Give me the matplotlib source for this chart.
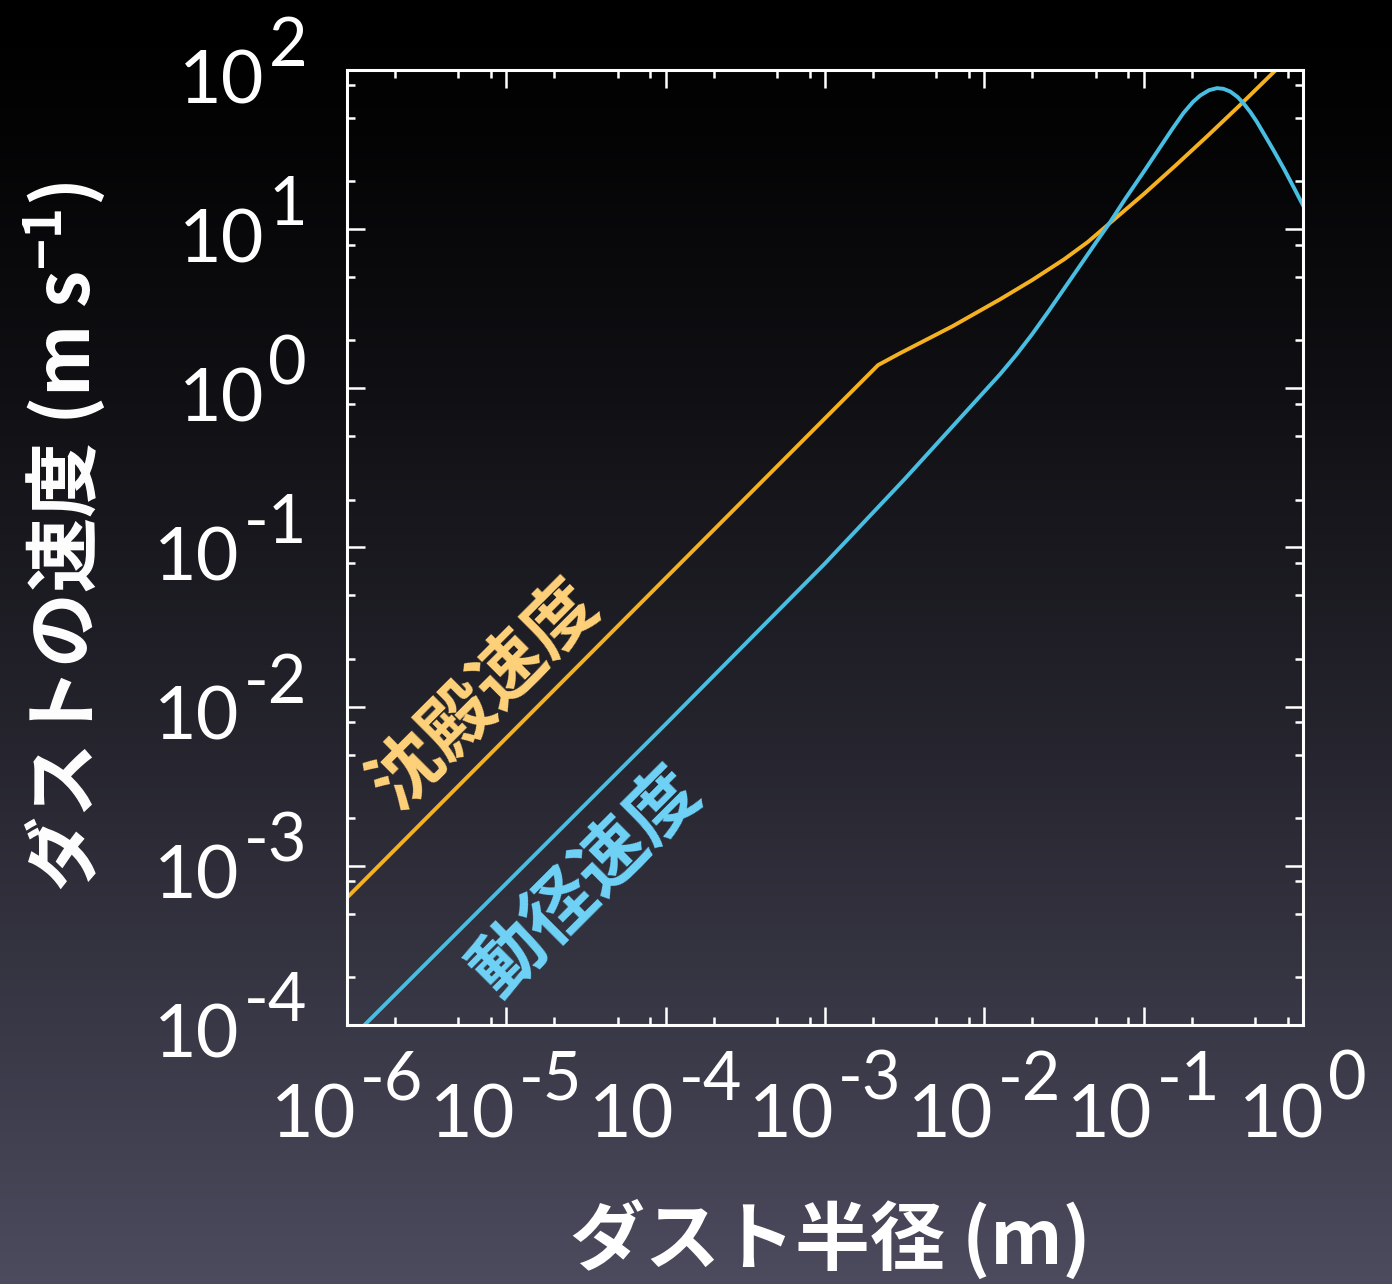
import numpy as np
import matplotlib
matplotlib.use("Agg")
import matplotlib.pyplot as plt
from matplotlib.ticker import LogLocator, FixedLocator, NullFormatter

plt.rcParams['font.family'] = ['Noto Sans CJK JP', 'DejaVu Sans']
plt.rcParams['mathtext.fontset'] = 'custom'
plt.rcParams['mathtext.rm'] = 'Noto Sans CJK JP'
plt.rcParams['mathtext.bf'] = 'Noto Sans CJK JP:bold'

# ---- data (log10 values) ----
settling_log_radius = [-6.0, -2.667, -2.53, -2.2, -1.9, -1.7, -1.5, -1.35, -1.21,
                       -1.0, -0.8, -0.6, -0.4, -0.15]
settling_log_speed = [-3.20, 0.146, 0.22, 0.39, 0.56, 0.68, 0.81, 0.92, 1.04,
                      1.22, 1.40, 1.585, 1.775, 2.02]

radial_log_radius = [-5.89, -5.0, -4.0, -3.0, -2.5, -2.2, -2.0, -1.9, -1.8, -1.7,
                     -1.6, -1.5, -1.4, -1.29, -1.21, -1.116, -1.0, -0.9, -0.82,
                     -0.75, -0.69, -0.645, -0.59, -0.54, -0.50, -0.457, -0.41,
                     -0.373, -0.33, -0.29, -0.24, -0.185, -0.12, -0.06, 0.0]
radial_log_speed = [-4.0, -3.11, -2.11, -1.10, -0.57, -0.24, -0.02, 0.09, 0.21, 0.34,
                    0.48, 0.625, 0.77, 0.93, 1.045, 1.19, 1.36, 1.51, 1.63,
                    1.73, 1.80, 1.84, 1.873, 1.886, 1.882, 1.865, 1.83,
                    1.79, 1.735, 1.675, 1.59, 1.496, 1.38, 1.266, 1.15]

x_ticks = [1e-6, 1e-5, 1e-4, 1e-3, 1e-2, 1e-1, 1e0]
x_exponents = ['-6', '-5', '-4', '-3', '-2', '-1', '0']
y_ticks = [1e-4, 1e-3, 1e-2, 1e-1, 1e0, 1e1, 1e2]
y_exponents = ['-4', '-3', '-2', '-1', '0', '1', '2']

settling_label = '沈殿速度'
radial_label = '動径速度'
x_label = 'ダスト半径 (m)'
y_label = 'ダストの速度 (m s$^{\\mathregular{-1}}$)'

# ---- figure ----
W, H = 1392, 1284
fig = plt.figure(figsize=(W / 100, H / 100), dpi=100)

# background gradient
bg = fig.add_axes([0, 0, 1, 1], zorder=-10)
t = np.linspace(0, 1, 512)[:, None]
f = t ** 1.3
bottom = np.array([0.300, 0.295, 0.370])
img = (f[..., None] * bottom[None, None, :]) * np.ones((1, 4, 1))
bg.imshow(img, aspect='auto', extent=[0, 1, 0, 1], origin='upper')
bg.set_axis_off()

ax = fig.add_axes([347 / W, 1 - 1025 / H, (1303 - 347) / W, (1025 - 70) / H])
ax.set_facecolor('none')
ax.set_xscale('log')
ax.set_yscale('log')
ax.set_xlim(1e-6, 1e0)
ax.set_ylim(1e-4, 1e2)

orange = '#F5B120'
blue = '#48BFE2'
ax.plot(np.power(10.0, settling_log_radius), np.power(10.0, settling_log_speed),
        color=orange, lw=2.8, solid_joinstyle='round')
ax.plot(np.power(10.0, radial_log_radius), np.power(10.0, radial_log_speed),
        color=blue, lw=2.8, solid_joinstyle='round')

for s in ax.spines.values():
    s.set_color('white')
    s.set_linewidth(2.2)

ax.xaxis.set_major_locator(FixedLocator(x_ticks))
ax.yaxis.set_major_locator(FixedLocator(y_ticks))
ax.xaxis.set_minor_locator(LogLocator(base=10, subs=(2.0, 5.0, 8.0), numticks=20))
ax.yaxis.set_minor_locator(LogLocator(base=10, subs=(2.0, 5.0, 8.0), numticks=20))
ax.xaxis.set_minor_formatter(NullFormatter())
ax.yaxis.set_minor_formatter(NullFormatter())

ax.tick_params(which='both', direction='in', top=True, right=True, colors='white',
               labelbottom=False, labelleft=False)
ax.tick_params(which='major', length=13, width=1.8)
ax.tick_params(which='minor', length=6, width=1.8)

# ---- tick labels: "10" with a large superscript exponent ----
tick_font = 'Lato'
base_size = 53
sup_size = 48
x_pairs = []
for xv, ex in zip(x_ticks, x_exponents):
    b = ax.annotate('10', xy=(xv, 0), xycoords=('data', 'axes fraction'),
                    xytext=(0, -113), textcoords='offset pixels', ha='right',
                    va='baseline', fontsize=base_size, color='white', family=tick_font,
                    annotation_clip=False)
    s = ax.annotate(ex, xy=(xv, 0), xycoords=('data', 'axes fraction'),
                    xytext=(6, -75), textcoords='offset pixels', ha='left',
                    va='baseline', fontsize=sup_size, color='white', family=tick_font,
                    annotation_clip=False)
    x_pairs.append((b, s))
y_pairs = []
for yv, ex in zip(y_ticks, y_exponents):
    b = ax.annotate('10', xy=(0, yv), xycoords=('axes fraction', 'data'),
                    xytext=(-90, -33), textcoords='offset pixels', ha='right',
                    va='baseline', fontsize=base_size, color='white', family=tick_font,
                    annotation_clip=False)
    s = ax.annotate(ex, xy=(0, yv), xycoords=('axes fraction', 'data'),
                    xytext=(-40, 4), textcoords='offset pixels', ha='right',
                    va='baseline', fontsize=sup_size, color='white', family=tick_font,
                    annotation_clip=False)
    y_pairs.append((b, s))

fig.canvas.draw()
r = fig.canvas.get_renderer()
gap = 4
for b, s in x_pairs:
    wb = b.get_window_extent(r).width
    ws = s.get_window_extent(r).width
    shift = (wb - ws - gap) / 2.0
    b.xyann = (shift, -113)
    s.xyann = (shift + gap, -75)
for b, s in y_pairs:
    ws = s.get_window_extent(r).width
    b.xyann = (-40 - ws - gap, -33)

ax.text(10 ** -5.134, 10 ** -1.927, settling_label, color='#FFD27A', fontsize=52,
        fontweight='bold', rotation=45, rotation_mode='anchor',
        ha='center', va='center')
ax.text(10 ** -4.493, 10 ** -3.102, radial_label, color='#6FD3F7', fontsize=52,
        fontweight='bold', rotation=45, rotation_mode='anchor',
        ha='center', va='center')

fig.text(65 / W, 1 - 537 / H, y_label, color='white', fontsize=54, fontweight='bold',
         rotation=90, ha='center', va='center')
fig.text(830 / W, 1 - 1240 / H, x_label, color='white', fontsize=54, fontweight='bold',
         ha='center', va='center')

fig.savefig('out.png', dpi=100)
